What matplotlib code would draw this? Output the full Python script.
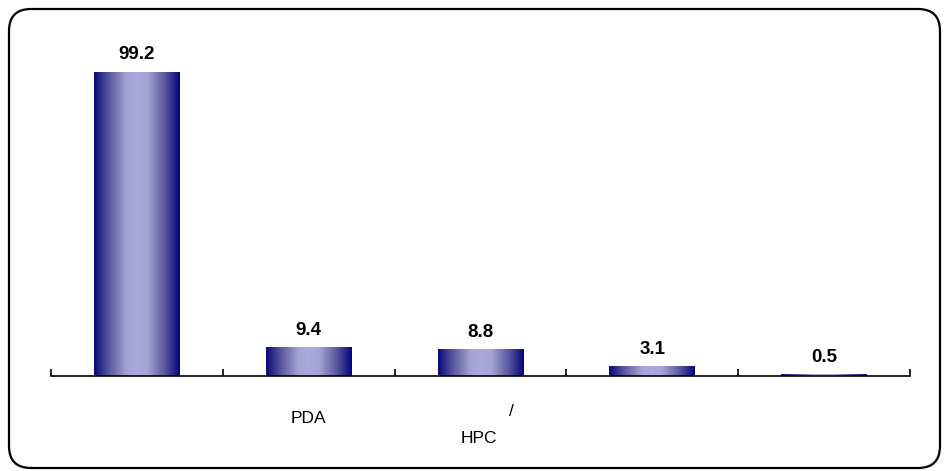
import numpy as np
import matplotlib
matplotlib.use("Agg")
import matplotlib.pyplot as plt
from matplotlib.patches import FancyBboxPatch
from matplotlib.colors import LinearSegmentedColormap

plt.rcParams['font.family'] = ['Liberation Sans', 'DejaVu Sans']

categories = ["", "PDA", "/\nHPC", "", ""]
values = [99.2, 9.4, 8.8, 3.1, 0.5]
value_labels = ["99.2", "9.4", "8.8", "3.1", "0.5"]

W, H = 944, 471
fig = plt.figure(figsize=(W / 100, H / 100), dpi=100)

# rounded frame drawn in pixel coordinates
bg = fig.add_axes([0, 0, 1, 1])
bg.set_xlim(0, W)
bg.set_ylim(0, H)
bg.axis('off')
frame = FancyBboxPatch((9, 3), 931, H - 12,
                       boxstyle="round,pad=0,rounding_size=22",
                       fill=False, edgecolor='black', linewidth=1.6)
bg.add_patch(frame)

ymax = 110
left, right = 51, 910
bottom_px = 376
px_per_unit = 3.065
top_px = bottom_px - ymax * px_per_unit
ax = fig.add_axes([left / W, (H - bottom_px) / H, (right - left) / W,
                   (bottom_px - top_px) / H])
ax.patch.set_alpha(0)
for s in ['top', 'right', 'left']:
    ax.spines[s].set_visible(False)
ax.spines['bottom'].set_linewidth(1.2)
ax.set_yticks([])
ax.set_xticks(np.arange(len(values) + 1) - 0.5)
ax.set_xticklabels([])
ax.tick_params(axis='x', direction='in', length=5, width=1.2)

cmap = LinearSegmentedColormap.from_list(
    "g", [(0.0, "#0a0a7a"), (0.18, "#5a5a9e"), (0.38, "#a4a4d4"),
          (0.5, "#aaaadc"), (0.62, "#a4a4d4"), (0.82, "#5a5a9e"),
          (1.0, "#04047e")])
grad = np.linspace(0, 1, 256).reshape(1, -1)
bw = 0.5
bars = ax.bar(np.arange(len(values)), values, width=bw, color='none')
for b in bars:
    x0 = b.get_x()
    h = b.get_height()
    im = ax.imshow(grad, cmap=cmap, aspect='auto',
                   extent=(x0, x0 + bw, 0, h), zorder=2)
    im.set_clip_path(b)
ax.set_xlim(-0.5, len(values) - 0.5)
ax.set_ylim(0, ymax)

for i, (v, lab) in enumerate(zip(values, value_labels)):
    ax.annotate(lab, (i, v), xytext=(0, 9), textcoords='offset points',
                ha='center', va='baseline', fontsize=13.5, fontweight='bold')

# category labels (baselines measured in pixels below axis)
for i, cat in enumerate(categories):
    lines = cat.split("\n")
    for j, line in enumerate(lines):
        if not line:
            continue
        if len(lines) == 1:
            dx, dy = 0, -45
        elif j == 0:
            dx, dy = 30, -38
        else:
            dx, dy = -2, -64
        ax.annotate(line, (i, 0), xytext=(dx * 0.75, dy * 0.75),
                    textcoords='offset points', ha='center', va='baseline',
                    fontsize=12.5, annotation_clip=False)

fig.savefig("out.png", dpi=100)
